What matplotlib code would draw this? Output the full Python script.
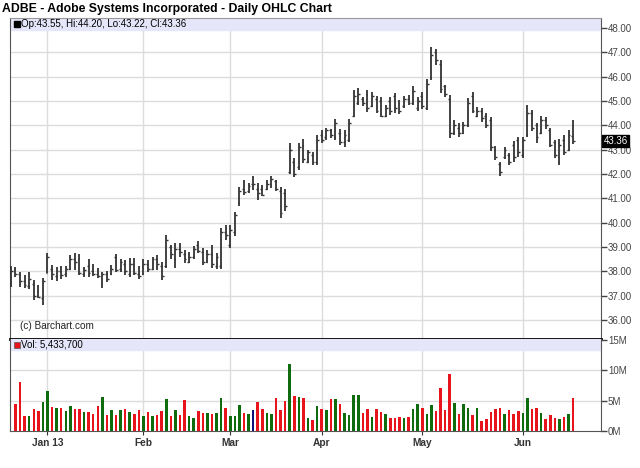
import numpy as np
import pandas as pd
import matplotlib
matplotlib.use("Agg")
import matplotlib.pyplot as plt
from matplotlib.patches import Rectangle

plt.rcParams['font.family'] = ['Liberation Sans', 'DejaVu Sans']

# daily OHLC, Dec 19 2012 .. Jun 18 2013
highs = [38.22, 38.19, 37.99, 37.85, 37.99, 37.64, 37.44, 37.71, 38.74, 38.26,
         38.19, 38.22, 38.22, 38.67, 38.77, 38.71, 38.19, 38.49, 38.30, 38.12,
         37.99, 38.03, 38.26, 38.70, 38.52, 38.47, 38.53, 38.53, 38.22, 38.49,
         38.47, 38.60, 38.67, 38.40, 39.49, 39.08, 39.15, 39.15, 38.88, 38.81,
         39.04, 39.26, 38.95, 38.88, 39.08, 38.74, 39.77, 39.90, 39.90, 40.45,
         41.48, 41.75, 41.62, 41.92, 41.62, 41.55, 41.75, 41.92, 41.75, 41.45,
         41.37, 43.26, 42.64, 43.26, 43.42, 42.99, 42.92, 43.60, 43.81, 43.88,
         43.86, 44.25, 43.84, 43.81, 44.25, 45.45, 45.52, 45.18, 45.45, 45.38,
         45.21, 45.18, 44.84, 45.18, 45.34, 45.04, 45.21, 45.25, 45.62, 45.18,
         45.38, 45.89, 47.21, 47.12, 46.69, 45.66, 45.25, 44.22, 44.08, 44.15,
         45.11, 45.36, 44.77, 44.70, 44.52, 44.33, 43.15, 42.51, 43.10, 42.85,
         43.37, 43.53, 43.51, 44.84, 44.63, 44.11, 44.38, 44.33, 43.88, 43.40,
         43.42, 43.60, 43.81, 44.20]
lows = [37.37, 37.78, 37.37, 37.30, 37.26, 36.82, 36.89, 36.62, 37.92, 37.64,
        37.62, 37.67, 37.75, 38.05, 38.05, 37.85, 37.78, 37.78, 37.81, 37.71,
        37.33, 37.56, 37.85, 37.99, 37.99, 37.85, 37.78, 37.85, 37.67, 37.85,
        37.99, 38.05, 38.05, 37.64, 38.12, 38.49, 38.12, 38.60, 38.33, 38.33,
        38.49, 38.74, 38.26, 38.33, 38.12, 38.08, 38.08, 39.29, 38.95, 39.45,
        40.68, 41.14, 41.21, 41.34, 40.93, 41.10, 41.34, 41.41, 41.32, 40.18,
        40.49, 42.00, 41.86, 42.16, 42.44, 42.44, 42.37, 42.37, 43.26, 43.40,
        43.47, 43.40, 43.19, 43.12, 43.33, 44.33, 44.84, 44.79, 44.56, 44.77,
        44.49, 44.33, 44.33, 44.42, 44.49, 44.47, 44.70, 44.84, 44.84, 44.60,
        44.66, 44.63, 45.86, 46.48, 45.32, 45.18, 43.47, 43.60, 43.53, 43.64,
        43.95, 44.49, 44.36, 44.15, 43.88, 42.96, 42.58, 41.92, 42.60, 42.37,
        42.51, 42.71, 42.64, 43.53, 43.78, 43.29, 43.64, 43.84, 43.10, 42.64,
        42.37, 42.78, 42.96, 43.22]
opens = [37.50, 38.10, 37.90, 37.60, 37.40, 37.50, 37.20, 36.90, 37.95, 38.10,
         37.80, 38.00, 37.90, 38.10, 38.50, 38.50, 37.90, 38.20, 38.00, 37.90,
         37.50, 37.90, 37.90, 38.60, 38.10, 38.30, 37.90, 38.30, 37.90, 37.90,
         38.30, 38.10, 38.50, 38.20, 38.20, 39.00, 38.50, 38.90, 38.70, 38.40,
         38.60, 39.10, 38.80, 38.40, 38.70, 38.20, 38.20, 39.60, 39.10, 39.60,
         40.80, 41.40, 41.30, 41.60, 41.40, 41.40, 41.40, 41.60, 41.70, 41.30,
         41.20, 42.10, 42.50, 42.30, 43.20, 42.50, 42.80, 42.50, 43.60, 43.50,
         43.80, 43.50, 43.70, 43.30, 43.40, 44.40, 44.90, 45.10, 45.30, 44.80,
         45.10, 45.00, 44.40, 45.00, 45.20, 44.90, 44.80, 45.10, 44.90, 44.70,
         45.20, 44.70, 46.00, 47.00, 46.50, 45.60, 45.10, 43.70, 43.90, 43.70,
         44.00, 45.20, 44.40, 44.60, 44.40, 44.20, 43.00, 42.40, 42.70, 42.80,
         43.20, 43.40, 42.80, 43.60, 44.50, 44.00, 43.70, 44.20, 43.80, 43.30,
         42.50, 43.40, 43.00, 43.55]
closes = [38.00, 37.90, 37.60, 37.45, 37.70, 37.00, 36.95, 37.60, 38.60, 37.90,
          38.00, 37.85, 38.10, 38.50, 38.40, 37.95, 38.05, 37.95, 37.90, 37.80,
          37.90, 37.70, 38.10, 38.05, 38.40, 38.00, 38.30, 37.95, 37.80, 38.30,
          38.10, 38.50, 38.30, 37.80, 39.30, 38.70, 38.90, 38.80, 38.50, 38.60,
          38.90, 38.85, 38.40, 38.70, 38.30, 38.60, 39.60, 39.50, 39.70, 40.30,
          41.30, 41.25, 41.50, 41.60, 41.20, 41.15, 41.60, 41.80, 41.40, 40.40,
          40.70, 43.00, 42.00, 43.10, 42.60, 42.90, 42.50, 43.40, 43.40, 43.80,
          43.60, 44.10, 43.30, 43.60, 44.10, 45.20, 45.30, 44.90, 44.70, 45.20,
          44.60, 44.40, 44.70, 44.60, 44.70, 44.60, 45.10, 44.90, 45.40, 45.00,
          44.80, 45.70, 46.90, 46.70, 45.50, 45.30, 43.70, 44.00, 43.70, 44.00,
          44.90, 44.60, 44.60, 44.30, 44.00, 43.10, 42.70, 42.10, 43.00, 42.50,
          42.70, 42.90, 43.40, 44.50, 43.90, 43.50, 44.20, 44.00, 43.20, 42.80,
          43.20, 42.90, 43.60, 43.36]
# volume in millions (first day not shown on the chart)
volume = [np.nan, 4.43, 7.99, 2.46, 2.46, 3.56, 3.28, 4.76, 6.57, 4.00,
          3.83, 3.72, 3.28, 4.16, 3.67, 3.61, 3.12, 3.12, 2.79, 4.16,
          5.64, 2.63, 3.39, 2.63, 3.39, 3.67, 3.12, 2.79, 3.39, 2.46,
          3.12, 2.46, 2.63, 3.28, 5.20, 2.46, 3.39, 2.63, 5.09, 2.46,
          2.19, 3.28, 2.96, 2.96, 2.79, 2.96, 5.36, 3.72, 2.46, 2.46,
          4.27, 2.96, 2.79, 3.39, 4.76, 3.56, 2.96, 2.79, 5.47, 3.39,
          4.93, 10.95, 5.80, 5.64, 5.36, 2.19, 1.75, 4.16, 3.56, 3.39,
          5.20, 5.20, 4.43, 2.90, 2.63, 5.91, 5.91, 2.90, 3.67, 2.30,
          3.56, 3.12, 2.79, 2.19, 2.13, 2.30, 2.13, 2.30, 3.56, 4.43,
          3.83, 2.79, 4.32, 3.28, 7.01, 3.39, 9.41, 4.65, 2.79, 4.43,
          3.72, 2.63, 3.83, 1.70, 1.92, 3.12, 3.56, 3.83, 2.79, 3.45,
          2.79, 3.28, 2.96, 5.36, 3.56, 3.83, 2.96, 1.92, 2.63, 2.13,
          2.03, 2.30, 2.79, 5.43]

price_ticks = [36, 37, 38, 39, 40, 41, 42, 43, 44, 45, 46, 47, 48]
vol_ticks = [0, 5, 10, 15]
holidays = ['2012-12-25', '2013-01-01', '2013-01-21', '2013-02-18',
            '2013-03-29', '2013-05-27']

dates = pd.bdate_range('2012-12-19', '2013-06-18', freq='C', holidays=holidays)
x = np.arange(len(dates))
opens = np.array(opens)
closes = np.array(closes)

# first trading day of each month shown
month_pos = [i for i in range(1, len(dates)) if dates[i].month != dates[i - 1].month]
month_lab = [dates[i].strftime('%b') for i in month_pos]
month_lab[0] = 'Jan 13'

fig = plt.figure(figsize=(6.4, 4.68), dpi=100)
ax = fig.add_axes([10 / 640, 1 - 339 / 468, 591 / 640, 321 / 468])
axv = fig.add_axes([10 / 640, 1 - 431 / 468, 591 / 640, 92 / 468], sharex=ax)

fig.text(2 / 640, 1 - 9 / 468, 'ADBE - Adobe Systems Incorporated - Daily OHLC Chart',
         fontsize=8.8, fontweight='bold', va='center', ha='left')

grid_c = '#dcdcdc'
bar_c = '#333333'
for a in (ax, axv):
    for p in month_pos:
        a.axvline(p, color=grid_c, lw=1, zorder=0)
    a.yaxis.tick_right()
    a.tick_params(axis='y', direction='out', length=4, width=1, colors='#444444',
                  labelsize=7, pad=1)
    for s in ('left', 'right', 'bottom'):
        a.spines[s].set_color('#555555')

# price panel
for p in price_ticks:
    ax.axhline(p, color=grid_c, lw=1, zorder=0)
ax.vlines(x, lows, highs, color=bar_c, lw=1.3, zorder=3)
ax.hlines(opens, x - 0.4, x, color=bar_c, lw=1, zorder=3)
ax.hlines(closes, x, x + 0.4, color=bar_c, lw=1, zorder=3)
ax.set_xlim(-0.2, 129.1)
ax.set_ylim(35.22, 48.41)
ax.set_yticks(price_ticks)
ax.set_yticklabels(['%.2f' % p for p in price_ticks])
ax.spines['top'].set_color('#999999')
ax.spines['bottom'].set_color('black')
ax.spines['bottom'].set_linewidth(2)
ax.tick_params(axis='x', length=0, labelbottom=False)
ax.add_patch(Rectangle((0, 1 - 12 / 321), 1, 12 / 321, transform=ax.transAxes,
                       color='#e6e6fa', zorder=1))
ax.plot([6.5 / 591], [1 - 6 / 321], 's', ms=4.5, color='black',
        transform=ax.transAxes, zorder=4, clip_on=False)
ax.text(11 / 591, 1 - 6 / 321, 'Op:%.2f, Hi:%.2f, Lo:%.2f, Cl:%.2f'
        % (opens[-1], highs[-1], lows[-1], closes[-1]),
        transform=ax.transAxes, fontsize=7, va='center', ha='left')
ax.text(10 / 591, 13 / 321, '(c) Barchart.com', transform=ax.transAxes,
        fontsize=7.2, va='center', ha='left', color='#222222')
ax.text(1.004, closes[-1], '%.2f' % closes[-1], transform=ax.get_yaxis_transform(),
        fontsize=7, color='white', va='center', ha='left', zorder=5,
        bbox=dict(boxstyle='square,pad=0.1', fc='black', ec='black'))

# volume panel
colors = np.where(closes > opens, '#0e6b0e',
                  np.where(closes < opens, '#e8141c', '#10107a'))
for v in vol_ticks[1:3]:
    axv.axhline(v, color=grid_c, lw=1, zorder=0)
axv.bar(x, volume, width=0.55, color=colors, zorder=3)
axv.set_ylim(0, 15.1)
axv.set_yticks(vol_ticks)
axv.set_yticklabels(['%dM' % v for v in vol_ticks])
axv.spines['top'].set_visible(False)
axv.set_xticks(month_pos)
axv.set_xticklabels(month_lab, fontweight='bold', fontsize=7.3)
axv.tick_params(axis='x', length=3, colors='#333333', pad=2)
axv.add_patch(Rectangle((0, 1 - 11 / 92), 1, 11 / 92, transform=axv.transAxes,
                        color='#e6e6fa', zorder=1))
axv.plot([6.5 / 591], [1 - 5.5 / 92], 's', ms=4.5, color='#e8141c',
         markeredgecolor='#555555', markeredgewidth=0.5,
         transform=axv.transAxes, zorder=4, clip_on=False)
axv.text(11 / 591, 1 - 5.5 / 92, 'Vol: {:,}'.format(5433700), transform=axv.transAxes,
         fontsize=7, va='center', ha='left')

fig.savefig('out.png', dpi=100)
